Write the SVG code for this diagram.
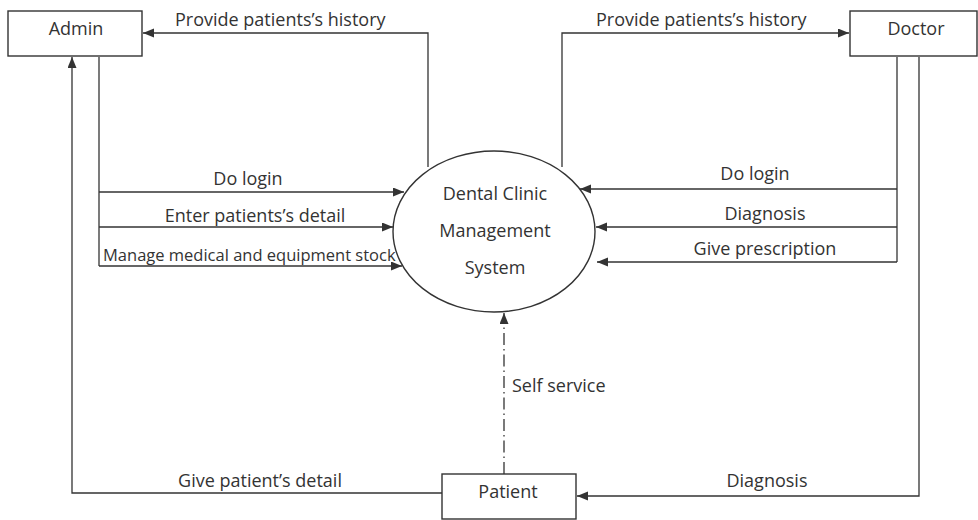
<svg xmlns="http://www.w3.org/2000/svg" width="978" height="520" viewBox="0 0 978 520">
<style>
.box{fill:#fff;stroke:#333;stroke-width:1.4}
.lbl{font-family:"Open Sans","Liberation Sans",sans-serif;font-size:18px;fill:#333}
.mid{text-anchor:middle}
.ln{fill:none;stroke:#333;stroke-width:1.3}
.arr{marker-end:url(#ah)}
.dd{stroke-dasharray:12,4,1.5,4}
</style>
<defs>
<marker id="ah" markerUnits="userSpaceOnUse" markerWidth="12" markerHeight="10" refX="11" refY="4.5" orient="auto">
<path d="M0,0 L11,4.5 L0,9 Z" fill="#333"/>
</marker>
</defs>
<rect width="978" height="520" fill="#fff"/>
<g id="connectors">
<path class="ln arr" d="M428,167 V33 H143"/>
<text class="lbl" x="175" y="26">Provide patients’s history</text>
<path class="ln arr" d="M562,167 V33 H849"/>
<text class="lbl" x="596" y="26">Provide patients’s history</text>
<path class="ln" d="M99,57 V266"/>
<path class="ln arr" d="M99,192 H404"/>
<text class="lbl mid" x="248" y="185">Do login</text>
<path class="ln arr" d="M99,227 H393"/>
<text class="lbl mid" x="255" y="222">Enter patients’s detail</text>
<path class="ln arr" d="M99,266 H402"/>
<text class="lbl" x="103" y="261" style="font-size:16.5px">Manage medical and equipment stock</text>
<path class="ln" d="M897,57 V262"/>
<path class="ln arr" d="M897,189 H580"/>
<text class="lbl mid" x="755" y="180">Do login</text>
<path class="ln arr" d="M897,227 H596"/>
<text class="lbl mid" x="765" y="220">Diagnosis</text>
<path class="ln arr" d="M897,262 H597"/>
<text class="lbl mid" x="765" y="255">Give prescription</text>
<path class="ln arr" d="M442,493 H72 V57"/>
<text class="lbl mid" x="260" y="487">Give patient’s detail</text>
<path class="ln arr" d="M919,57 V496 H577"/>
<text class="lbl mid" x="767" y="487">Diagnosis</text>
<path class="ln arr dd" d="M504,474 V313"/>
<text class="lbl" x="512" y="392">Self service</text>
</g>
<g id="admin">
<rect class="box" x="8" y="11" width="134" height="45"/>
<text class="lbl mid" x="76" y="35">Admin</text>
</g>
<g id="doctor">
<rect class="box" x="850" y="11" width="127" height="45"/>
<text class="lbl mid" x="916" y="35">Doctor</text>
</g>
<g id="patient">
<rect class="box" x="442" y="474" width="134" height="45"/>
<text class="lbl mid" x="508" y="498">Patient</text>
</g>
<g id="system">
<ellipse class="box" cx="494" cy="231.5" rx="101" ry="80.5"/>
<text class="lbl mid" x="495" y="200">Dental Clinic</text>
<text class="lbl mid" x="495" y="237">Management</text>
<text class="lbl mid" x="495" y="274">System</text>
</g>
</svg>
